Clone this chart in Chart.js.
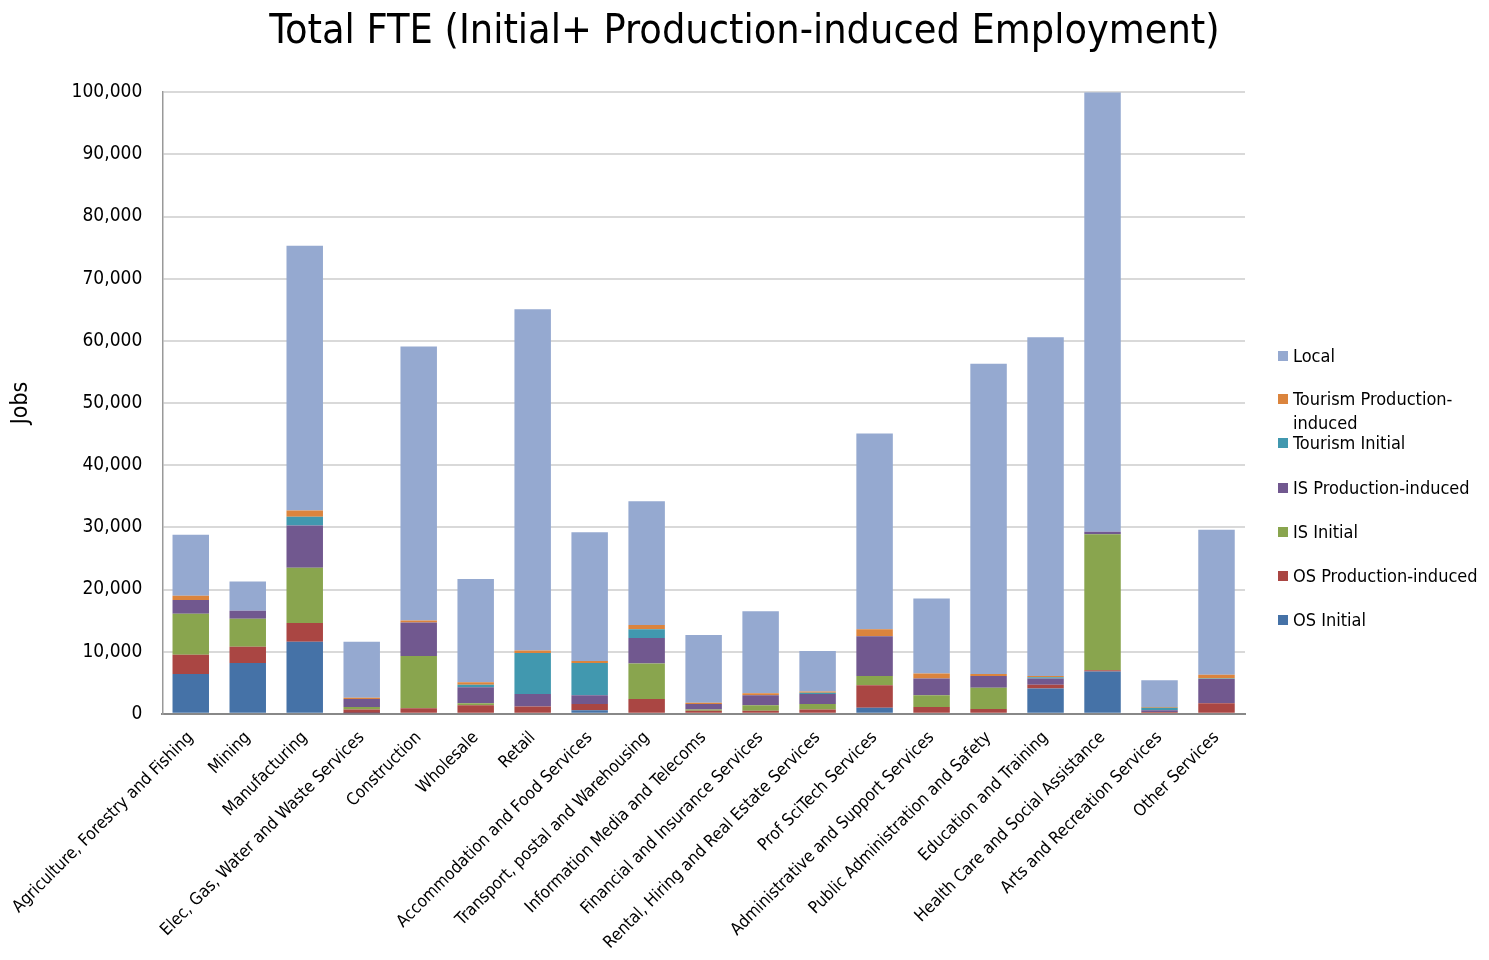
<!DOCTYPE html>
<html>
<head>
<meta charset="utf-8">
<script src="https://cdn.jsdelivr.net/npm/chart.js@4"></script>
<style>
  body { margin: 0; background: #fff; }
  #wrap { position: relative; width: 1489px; height: 960px; }
  #legend {
    position: absolute; left: 1278px; top: 0;
    font-family: "Liberation Sans Narrow", "Arial Narrow", "DejaVu Sans Condensed", sans-serif;
    font-size: 18px; color: #000;
  }
  .item { position: absolute; left: 0; width: 210px; display: flex; align-items: flex-start; line-height: 24px; }
  .box { width: 10px; height: 10px; margin-top: 7px; margin-right: 5px; flex: none; }
  .txt { width: 192px; }
</style>
</head>
<body>
<div id="wrap">
  <canvas id="chart" width="1489" height="960"></canvas>
  <div id="legend"></div>
</div>
<script>
const categories = [
  "Agriculture, Forestry and Fishing",
  "Mining",
  "Manufacturing",
  "Elec, Gas, Water and Waste Services",
  "Construction",
  "Wholesale",
  "Retail",
  "Accommodation and Food Services",
  "Transport, postal and Warehousing",
  "Information Media and Telecoms",
  "Financial and Insurance Services",
  "Rental, Hiring and Real Estate Services",
  "Prof SciTech Services",
  "Administrative and Support Services",
  "Public Administration and Safety",
  "Education and Training",
  "Health Care and Social Assistance",
  "Arts and Recreation Services",
  "Other Services"
];

const osInitial   = [6400, 8200, 11600, 100, 0, 0, 0, 600, 0, 0, 0, 0, 1000, 0, 0, 4100, 6800, 0, 0];
const osProd      = [3100, 2600, 3000, 600, 900, 1400, 1200, 1000, 2400, 500, 500, 700, 3600, 1100, 800, 600, 200, 300, 1700];
const isInitial   = [6600, 4500, 8900, 400, 8400, 300, 0, 0, 5700, 200, 900, 900, 1500, 1900, 3400, 0, 21900, 0, 0];
const isProd      = [2200, 1300, 6800, 1300, 5400, 2600, 2000, 1400, 4100, 900, 1600, 1600, 6400, 2700, 1900, 1000, 400, 300, 3900];
const tourInitial = [0, 0, 1400, 0, 0, 400, 6600, 5200, 1400, 0, 0, 200, 0, 0, 0, 200, 0, 400, 100];
const tourProd    = [700, 0, 1000, 200, 300, 400, 400, 300, 700, 200, 300, 200, 1100, 800, 300, 200, 0, 100, 600];
const local       = [9800, 4700, 42600, 9000, 44100, 16600, 54900, 20700, 19900, 10900, 13200, 6500, 31500, 12050, 49900, 54500, 70700, 4300, 23300];

const yTicks = [0, 10000, 20000, 30000, 40000, 50000, 60000, 70000, 80000, 90000, 100000];

const FONT = '"Liberation Sans Narrow", "Arial Narrow", "DejaVu Sans Condensed", sans-serif';

function series(label, data, color) {
  return {
    label: label,
    data: data,
    backgroundColor: color,
    borderWidth: 0,
    categoryPercentage: 1,
    barPercentage: 0.64,
  };
}

const datasets = [
  series("OS Initial", osInitial, "#4572A7"),
  series("OS Production-induced", osProd, "#AA4643"),
  series("IS Initial", isInitial, "#89A54E"),
  series("IS Production-induced", isProd, "#71588F"),
  series("Tourism Initial", tourInitial, "#4198AF"),
  series("Tourism Production-induced", tourProd, "#DB843D"),
  series("Local", local, "#95A9D0"),
];

// center the title across the full canvas, not just the area left of the legend
const fullWidthTitle = {
  id: "fullWidthTitle",
  afterLayout(chart) {
    const t = chart.titleBlock;
    if (t) {
      t.left = 0;
      t.right = chart.width;
      t.width = chart.width;
    }
  },
};

const chart = new Chart(document.getElementById("chart"), {
  type: "bar",
  data: { labels: categories, datasets: datasets },
  plugins: [fullWidthTitle],
  options: {
    responsive: false,
    animation: false,
    layout: { padding: { left: 3, right: 244, top: 0, bottom: 1 } },
    plugins: {
      legend: { display: false },
      tooltip: { enabled: false },
      title: {
        display: true,
        text: "Total FTE (Initial+ Production-induced Employment)",
        color: "#000",
        font: { family: FONT, size: 41, weight: "normal" },
        padding: { top: 8, bottom: 35 },
      },
    },
    scales: {
      x: {
        stacked: true,
        grid: { display: false },
        border: { color: "#888", width: 2 },
        ticks: {
          color: "#000",
          font: { family: FONT, size: 17 },
          minRotation: 45,
          maxRotation: 45,
          padding: 6,
        },
      },
      y: {
        stacked: true,
        min: 0,
        max: 100000,
        afterBuildTicks: (scale) => {
          scale.ticks = yTicks.map((v) => ({ value: v }));
        },
        grid: { color: "#d9d9d9", lineWidth: 2, drawTicks: false },
        border: { color: "#999", width: 1.5 },
        title: {
          display: true,
          text: "Jobs",
          color: "#000",
          font: { family: FONT, size: 23 },
          padding: { top: 4, bottom: 17 },
        },
        ticks: {
          color: "#000",
          font: { family: FONT, size: 19 },
          padding: 20,
          callback: (v) => v.toLocaleString("en-US"),
        },
      },
    },
  },
});

// legend, top entry first
const legendTops = [344, 387, 431, 476, 520, 564, 608];
const legendEl = document.getElementById("legend");
datasets.slice().reverse().forEach((ds, i) => {
  const item = document.createElement("div");
  item.className = "item";
  item.style.top = legendTops[i] + "px";
  item.innerHTML = '<span class="box" style="background:' + ds.backgroundColor + '"></span><span class="txt">' + ds.label + "</span>";
  legendEl.appendChild(item);
});
</script>
</body>
</html>
